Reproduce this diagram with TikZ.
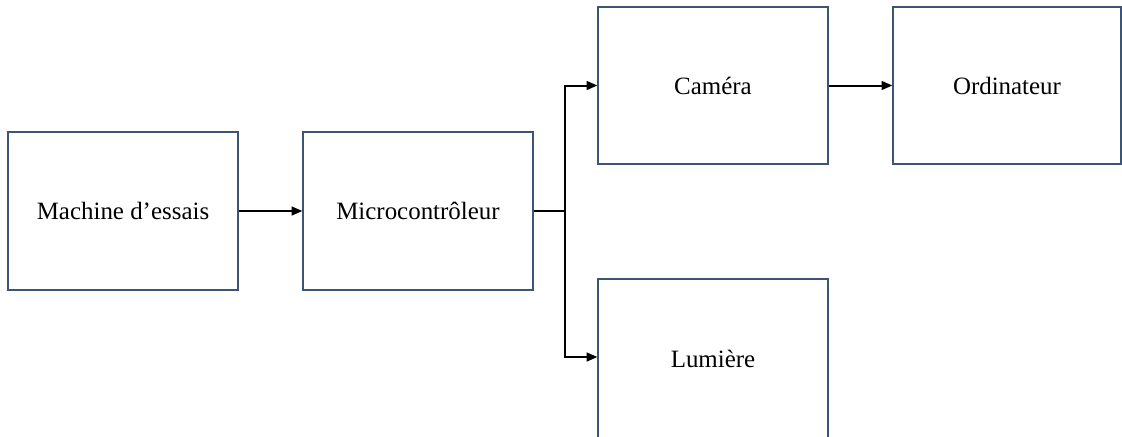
\documentclass[tikz,border=0pt]{standalone}
\usepackage{fontspec}
\setmainfont{Liberation Serif}
\usetikzlibrary{arrows.meta}
\definecolor{boxc}{HTML}{3E5475}
\tikzset{
  blk/.style={draw=boxc, line width=0.9pt, minimum width=230*0.75pt, minimum height=157*0.75pt,
    inner sep=0pt, font=\fontsize{18.7}{22}\selectfont},
  conn/.style={line width=1.5pt, -{Triangle[length=8pt,width=6.5pt]}},
  seg/.style={line width=1.5pt}
}
\begin{document}
\begin{tikzpicture}[x=0.75pt,y=-0.75pt]
\clip (0,0) rectangle (1122,436);
\useasboundingbox (0,0) rectangle (1122,436);
\node[blk, minimum height=158*0.75pt] (mach) at (123,211) {Machine d’essais};
\node[blk, minimum height=158*0.75pt] (micro) at (418,211) {Microcontrôleur};
\node[blk] (cam) at (713,85.5) {Caméra};
\node[blk, minimum width=228*0.75pt] (ord) at (1007,85.5) {Ordinateur};
\node[blk, minimum height=160*0.75pt] (lum) at (713,359) {Lumière};
\coordinate (split) at (565,211);
\draw[conn] (mach.east) -- (micro.west);
\draw[seg] (micro.east) -- (split);
\draw[conn] (split) |- (cam.west);
\draw[conn] (split) |- ([yshift=1.5pt]lum.west);
\draw[conn] (cam.east) -- (ord.west);
\end{tikzpicture}
\end{document}
